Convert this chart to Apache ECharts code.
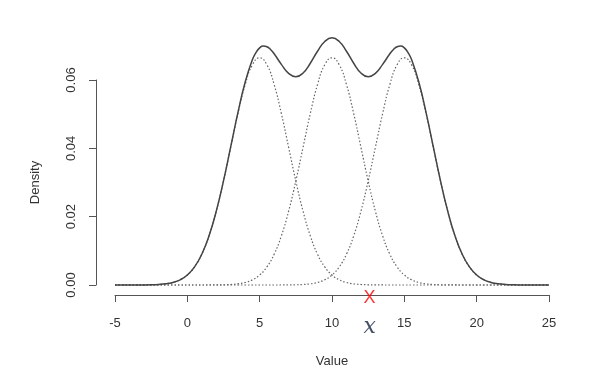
<!DOCTYPE html>
<html><head><meta charset="utf-8">
<script src="https://cdn.jsdelivr.net/npm/echarts@6/dist/echarts.min.js"></script>
<style>html,body{margin:0;padding:0;background:#fff}#c{width:596px;height:391px}</style>
</head><body><div id="c"></div>
<script>
// component curves: x from -5 to 25 step 0.5
const xValues = [-5,-4.5,-4,-3.5,-3,-2.5,-2,-1.5,-1,-0.5,0,0.5,1,1.5,2,2.5,3,3.5,4,4.5,5,5.5,6,6.5,7,7.5,8,8.5,9,9.5,10,10.5,11,11.5,12,12.5,13,13.5,14,14.5,15,15.5,16,16.5,17,17.5,18,18.5,19,19.5,20,20.5,21,21.5,22,22.5,23,23.5,24,24.5,25];
const comp1 = [0,0,0,0.00001,0.00002,0.00006,0.00015,0.00034,0.00074,0.00152,0.00292,0.00529,0.00900,0.01438,0.02159,0.03044,0.04033,0.05019,0.05868,0.06445,0.06649,0.06445,0.05868,0.05019,0.04033,0.03044,0.02159,0.01438,0.00900,0.00529,0.00292,0.00152,0.00074,0.00034,0.00015,0.00006,0.00002,0.00001,0,0,0,0,0,0,0,0,0,0,0,0,0,0,0,0,0,0,0,0,0,0,0];
const comp2 = [0,0,0,0,0,0,0,0,0,0,0,0,0,0.00001,0.00002,0.00006,0.00015,0.00034,0.00074,0.00152,0.00292,0.00529,0.00900,0.01438,0.02159,0.03044,0.04033,0.05019,0.05868,0.06445,0.06649,0.06445,0.05868,0.05019,0.04033,0.03044,0.02159,0.01438,0.00900,0.00529,0.00292,0.00152,0.00074,0.00034,0.00015,0.00006,0.00002,0.00001,0,0,0,0,0,0,0,0,0,0,0,0,0];
const comp3 = [0,0,0,0,0,0,0,0,0,0,0,0,0,0,0,0,0,0,0,0,0,0,0,0.00001,0.00002,0.00006,0.00015,0.00034,0.00074,0.00152,0.00292,0.00529,0.00900,0.01438,0.02159,0.03044,0.04033,0.05019,0.05868,0.06445,0.06649,0.06445,0.05868,0.05019,0.04033,0.03044,0.02159,0.01438,0.00900,0.00529,0.00292,0.00152,0.00074,0.00034,0.00015,0.00006,0.00002,0.00001,0,0,0];
// mixture curve: finer sampling near the outer peaks
const mixX = [-5,-4.5,-4,-3.5,-3,-2.5,-2,-1.5,-1,-0.5,0,0.5,1,1.5,2,2.5,3,3.5,4,4.5,4.75,5,5.25,5.5,5.75,6,6.5,7,7.5,8,8.5,9,9.5,10,10.5,11,11.5,12,12.5,13,13.5,14,14.25,14.5,14.75,15,15.25,15.5,16,16.5,17,17.5,18,18.5,19,19.5,20,20.5,21,21.5,22,22.5,23,23.5,24,24.5,25];
const mixture = [0,0,0,0.00001,0.00002,0.00006,0.00015,0.00034,0.00074,0.00152,0.00292,0.00529,0.00900,0.01439,0.02161,0.03050,0.04048,0.05053,0.05942,0.06597,0.06809,0.06941,0.06993,0.06974,0.06893,0.06768,0.06458,0.06194,0.06094,0.06207,0.06491,0.06842,0.07126,0.07233,0.07126,0.06842,0.06491,0.06207,0.06094,0.06194,0.06458,0.06768,0.06893,0.06974,0.06993,0.06941,0.06809,0.06597,0.05942,0.05053,0.04048,0.03050,0.02161,0.01439,0.00900,0.00529,0.00292,0.00152,0.00074,0.00034,0.00015,0.00006,0.00002,0.00001,0,0,0];
const xTicks = [-5,0,5,10,15,20,25];
const yTicks = [0,0.02,0.04,0.06];
const markX = [12.6];
const markY = [-0.0038];
const mathLabelY = [-0.0125];

const pairs = (xs, arr) => xs.map((x,i)=>[x,arr[i]]);
const chart = echarts.init(document.getElementById('c'), null, {renderer:'canvas'});
const dotted = (arr) => ({type:'line', data:pairs(xValues, arr), showSymbol:false, smooth:0.5, clip:false,
  lineStyle:{type:[1.5,2], width:1.2, color:'#666'}, z:2});
chart.setOption({
  animation:false,
  grid:{left:115,right:47,top:80,bottom:106},
  xAxis:{type:'value',min:xTicks[0],max:xTicks[xTicks.length-1],interval:5,offset:10,
    name:'Value',nameLocation:'middle',nameGap:60,nameTextStyle:{fontFamily:'Liberation Sans',fontSize:13,color:'#333'},
    axisLine:{onZero:false,lineStyle:{color:'#555',width:1}},
    axisTick:{length:7,lineStyle:{color:'#555'}},
    axisLabel:{margin:22,fontFamily:'Liberation Sans',fontSize:13,color:'#333'},
    splitLine:{show:false}},
  yAxis:{type:'value',min:yTicks[0],max:yTicks[yTicks.length-1],interval:0.02,offset:19,
    name:'Density',nameLocation:'middle',nameGap:54,nameTextStyle:{fontFamily:'Liberation Sans',fontSize:13,color:'#333'},
    axisLine:{show:true,onZero:false,lineStyle:{color:'#555',width:1}},
    axisTick:{show:true,length:7,lineStyle:{color:'#555'}},
    axisLabel:{rotate:90,margin:18,fontFamily:'Liberation Sans',fontSize:13,color:'#333',formatter:v=>v.toFixed(2)},
    splitLine:{show:false}},
  series:[
    dotted(comp1), dotted(comp2), dotted(comp3),
    {type:'line',data:pairs(mixX, mixture),showSymbol:false,smooth:0.5,clip:false,
      lineStyle:{width:1.5,color:'#444'},z:3},
    {type:'scatter',data:[[markX[0],markY[0]]],symbolSize:1,itemStyle:{color:'rgba(0,0,0,0)'},clip:false,
      label:{show:true,position:'inside',formatter:'X',color:'#ff0000',fontFamily:'Liberation Sans',fontSize:18}},
    {type:'scatter',data:[[markX[0],mathLabelY[0]]],symbolSize:1,itemStyle:{color:'rgba(0,0,0,0)'},clip:false,
      label:{show:true,position:'inside',formatter:'x',color:'#14203c',fontFamily:'DejaVu Serif',fontStyle:'italic',fontSize:22}}
  ]
});
</script></body></html>
